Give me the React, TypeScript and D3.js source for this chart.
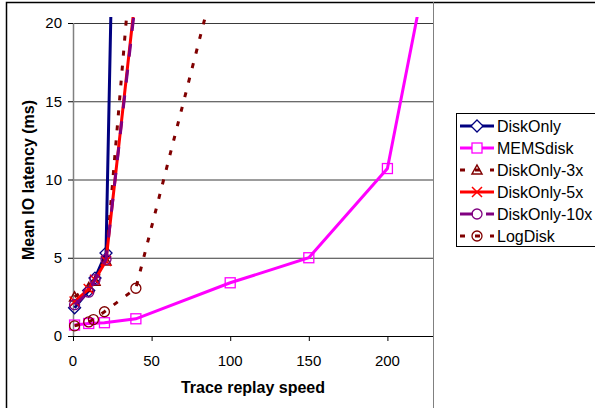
import React from "react";
import * as d3 from "d3";

const seriesNames = ["DiskOnly", "MEMSdisk", "DiskOnly-3x", "DiskOnly-5x", "DiskOnly-10x", "LogDisk"];
const diskOnlyX = [1, 10, 14, 21, 26];
const diskOnlyY = [1.8, 2.9, 3.7, 5.3, 30];
const memsX = [1, 10, 20, 40, 100, 150, 200, 225];
const memsY = [0.7, 0.8, 0.85, 1.1, 3.4, 5.0, 10.7, 23.5];
const disk3xX = [1, 10, 14, 21, 35];
const disk3xY = [2.5, 3.1, 3.5, 4.8, 21.5];
const disk5xX = [1, 10, 14, 21, 40];
const disk5xY = [2.2, 3.0, 3.6, 4.8, 22];
const disk10xX = [1, 10, 14, 21, 41];
const disk10xY = [2.0, 2.8, 3.6, 4.9, 22.5];
const logDiskX = [1, 10, 13, 20, 40, 90];
const logDiskY = [0.65, 0.9, 1.05, 1.55, 3.05, 22.7];
const xTicks = [0, 50, 100, 150, 200];
const yTicks = [0, 5, 10, 15, 20];

type Style = { color: string; dash?: string; marker: string; width: number };
const styles: Style[] = [
  { color: "#000080", marker: "diamond", width: 3 },
  { color: "#FF00FF", marker: "square", width: 3 },
  { color: "#800000", dash: "5 10", marker: "triangle", width: 3 },
  { color: "#FF0000", marker: "x", width: 3 },
  { color: "#800080", dash: "13 13", marker: "circle", width: 3 },
  { color: "#800000", dash: "5 10", marker: "circle", width: 3 },
];

const seriesX = [diskOnlyX, memsX, disk3xX, disk5xX, disk10xX, logDiskX];
const seriesY = [diskOnlyY, memsY, disk3xY, disk5xY, disk10xY, logDiskY];

const FONT = "'Liberation Sans', Arial, sans-serif";

function Marker({ kind, x, y, color, fill }: { kind: string; x: number; y: number; color: string; fill: string }) {
  const s = 5;
  if (kind === "diamond")
    return <path d={`M${x},${y - s - 1}L${x + s + 1},${y}L${x},${y + s + 1}L${x - s - 1},${y}Z`} fill={fill} stroke={color} strokeWidth={1.3} />;
  if (kind === "square")
    return <rect x={x - s} y={y - s} width={2 * s} height={2 * s} fill={fill} stroke={color} strokeWidth={1.3} />;
  if (kind === "triangle")
    return <path d={`M${x},${y - s}L${x + s},${y + s - 1}L${x - s},${y + s - 1}Z`} fill={fill} stroke={color} strokeWidth={1.5} />;
  if (kind === "x")
    return <path d={`M${x - s},${y - s}L${x + s},${y + s}M${x - s},${y + s}L${x + s},${y - s}`} stroke={color} strokeWidth={1.5} fill="none" />;
  return <circle cx={x} cy={y} r={s} fill={fill} stroke={color} strokeWidth={1.3} />;
}

export default function App() {
  const W = 595, H = 408;
  const x = d3.scaleLinear().domain([0, 229]).range([73, 433]);
  const y = d3.scaleLinear().domain([0, 20]).range([336, 23]);
  const line = d3.line<[number, number]>().x((d) => x(d[0])).y((d) => y(d[1]));

  return (
    <svg width={W} height={H} style={{ position: "absolute", left: 0, top: 0 }} fontFamily={FONT}>
      <defs>
        <clipPath id="plotclip">
          <rect x={0} y={17} width={433} height={400} />
        </clipPath>
      </defs>
      <rect x={0} y={0} width={W} height={H} fill="white" />
      {/* outer frame */}
      <path d={`M6.5,${H}L6.5,2.5L${W},2.5`} fill="none" stroke="#000" strokeWidth={1.5} />
      {/* gridlines */}
      {yTicks.filter((t) => t > 0).map((t) => (
        <line key={t} x1={73} x2={433} y1={y(t) + 0.5} y2={y(t) + 0.5} stroke="#3a3a3a" strokeWidth={1} />
      ))}
      <line x1={433.5} x2={433.5} y1={2} y2={H} stroke="#808080" strokeWidth={1} />
      {/* axes */}
      <line x1={73.5} x2={73.5} y1={y(20)} y2={y(0)} stroke="#808080" strokeWidth={1.5} />
      <line x1={73} x2={433} y1={y(0) + 0.5} y2={y(0) + 0.5} stroke="#000" strokeWidth={1.2} />
      {yTicks.map((t) => (
        <g key={t}>
          <line x1={68} x2={73} y1={y(t) + 0.5} y2={y(t) + 0.5} stroke="#000" />
          <text x={62} y={y(t)} dy="0.36em" textAnchor="end" fontSize={15} fill="#000">{t}</text>
        </g>
      ))}
      {xTicks.map((t) => (
        <g key={t}>
          <line x1={x(t) + 0.5} x2={x(t) + 0.5} y1={336} y2={341} stroke="#000" />
          <text x={x(t)} y={366} textAnchor="middle" fontSize={15} fill="#000">{t}</text>
        </g>
      ))}
      <text x={253} y={393} textAnchor="middle" fontSize={16} fontWeight="bold">Trace replay speed</text>
      <text transform={`translate(34,180) rotate(-90)`} textAnchor="middle" fontSize={16} fontWeight="bold">Mean IO latency (ms)</text>
      {/* series */}
      <g clipPath="url(#plotclip)">
        {seriesNames.map((name, i) => {
          const pts = seriesX[i].map((v, j) => [v, seriesY[i][j]] as [number, number]);
          const st = styles[i];
          return (
            <g key={name}>
              <path d={line(pts) || ""} fill="none" stroke={st.color} strokeWidth={st.width} strokeDasharray={st.dash} />
              {pts.map((p, j) => (
                <Marker key={j} kind={st.marker} x={x(p[0])} y={y(p[1])} color={st.color} fill="none" />
              ))}
            </g>
          );
        })}
      </g>
      {/* legend */}
      <rect x={456.5} y={113.5} width={150} height={133} fill="white" stroke="#000" strokeWidth={1} />
      {seriesNames.map((name, i) => {
        const st = styles[i];
        const ly = 126 + i * 22;
        return (
          <g key={name}>
            <line x1={460} x2={494} y1={ly} y2={ly} stroke={st.color} strokeWidth={st.width} strokeDasharray={st.dash} />
            <Marker kind={st.marker} x={477} y={ly} color={st.color} fill={st.dash ? "none" : "white"} />
            <text x={497} y={ly} dy="0.36em" fontSize={16} fill="#000">{name}</text>
          </g>
        );
      })}
    </svg>
  );
}
